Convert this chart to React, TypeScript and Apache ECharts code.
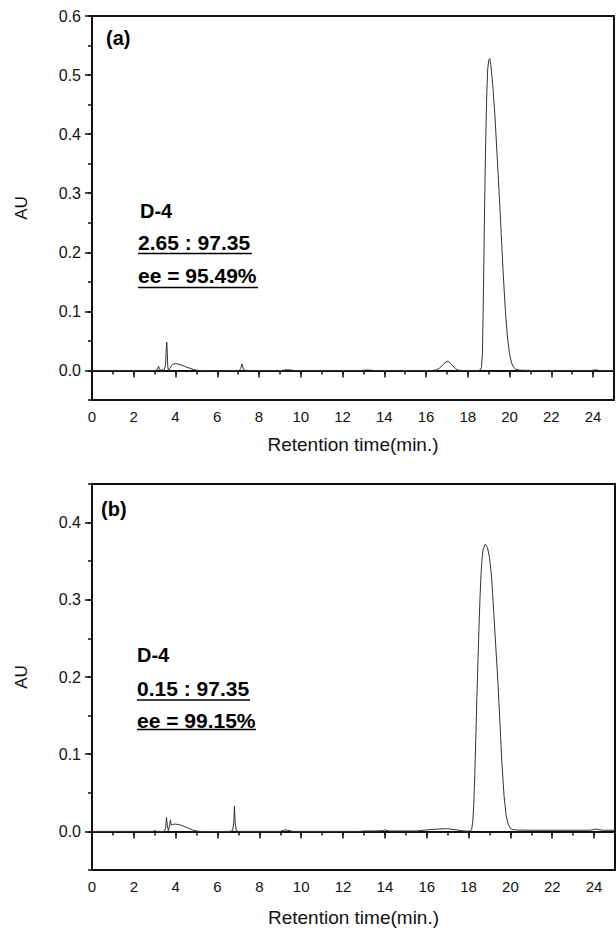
import React, { useEffect, useRef } from "react";
import * as echarts from "echarts";

// Retention time (min) vs absorbance (AU), panel (a)
const traceA: [number, number][] = [
  [0, 0], [3.0, 0], [3.1, 0.0005], [3.15, 0.004], [3.19, 0.007], [3.23, 0.002], [3.3, 0.0005],
  [3.45, 0.001], [3.52, 0.008], [3.555, 0.035], [3.58, 0.048], [3.605, 0.03], [3.63, 0.006],
  [3.67, -0.001], [3.72, 0.003], [3.8, 0.008], [3.9, 0.011], [4.0, 0.0115], [4.1, 0.011],
  [4.3, 0.009], [4.5, 0.006], [4.7, 0.0035], [4.9, 0.0012], [5.1, 0.0], [5.5, -0.0005],
  [6.0, -0.0005], [6.5, 0], [7.05, 0], [7.12, 0.003], [7.18, 0.011], [7.24, 0.004], [7.3, 0.0005],
  [7.5, 0], [9.1, 0], [9.3, 0.0012], [9.5, 0.0008], [9.7, 0], [12.9, 0], [13.2, 0.0008], [13.5, 0],
  [16.3, 0], [16.5, 0.001], [16.65, 0.004], [16.8, 0.0095], [16.9, 0.013], [17.0, 0.015],
  [17.1, 0.0145], [17.2, 0.011], [17.3, 0.007], [17.4, 0.0035], [17.5, 0.0012], [17.6, 0.0003],
  [17.8, 0], [18.5, 0], [18.6, 0.001], [18.65, 0.005], [18.7, 0.03], [18.75, 0.14], [18.8, 0.27],
  [18.85, 0.38], [18.9, 0.46], [18.95, 0.51], [19.0, 0.525], [19.05, 0.528], [19.1, 0.518],
  [19.2, 0.48], [19.3, 0.43], [19.4, 0.365], [19.5, 0.3], [19.6, 0.23], [19.7, 0.16], [19.8, 0.1],
  [19.9, 0.055], [20.0, 0.027], [20.1, 0.012], [20.2, 0.005], [20.3, 0.0018], [20.5, 0.0005],
  [21, 0], [23.9, 0], [24.1, 0.001], [24.3, 0], [25, 0],
];

// panel (b)
const traceB: [number, number][] = [
  [0, 0], [2.9, 0], [3.0, 0.001], [3.1, 0], [3.45, 0], [3.52, 0.004], [3.56, 0.018], [3.6, 0.008],
  [3.65, 0.001], [3.7, 0.006], [3.75, 0.015], [3.79, 0.008], [3.85, 0.009], [4.0, 0.0095],
  [4.2, 0.0085], [4.4, 0.0065], [4.6, 0.0042], [4.8, 0.002], [5.0, 0.0005], [5.3, -0.0003],
  [6.0, -0.0003], [6.6, 0], [6.72, 0.001], [6.78, 0.012], [6.81, 0.033], [6.84, 0.012], [6.9, 0.001],
  [7.0, 0], [9.0, 0], [9.2, 0.002], [9.35, 0.0015], [9.6, 0], [12.8, 0], [13.0, 0.0005],
  [13.5, 0.0005], [13.9, 0.001], [14.0, 0.002], [14.2, 0.0005], [15.5, 0.0005], [16.0, 0.002],
  [16.5, 0.003], [17.0, 0.0035], [17.4, 0.002], [17.8, 0.0005], [18.0, 0.0003], [18.1, 0.001],
  [18.15, 0.003], [18.2, 0.012], [18.25, 0.035], [18.3, 0.075], [18.35, 0.125], [18.4, 0.175],
  [18.45, 0.222], [18.5, 0.265], [18.55, 0.305], [18.6, 0.335], [18.65, 0.355], [18.7, 0.366],
  [18.8, 0.372], [18.9, 0.368], [19.0, 0.355], [19.1, 0.33], [19.2, 0.285], [19.3, 0.24],
  [19.4, 0.195], [19.5, 0.14], [19.6, 0.085], [19.7, 0.045], [19.8, 0.02], [19.9, 0.009],
  [20.0, 0.004], [20.1, 0.0025], [20.3, 0.0018], [21, 0.0015], [23.8, 0.0015], [24.1, 0.003],
  [24.4, 0.0015], [25, 0.0015],
];

const xRange = [0, 25];
const xMajorStep = 2;
const xMinorStep = 1;
const yRangeA = [-0.05, 0.6];
const yRangeB = [-0.05, 0.45];
const yMinorStep = 0.05;

const panelLabels = ["(a)", "(b)"];
const sampleName = "D-4";
const ratioTexts = ["2.65 : 97.35", "0.15 : 97.35"];
const eeTexts = ["ee = 95.49%", "ee = 99.15%"];

const xTitle = "Retention time(min.)";
const yTitle = "AU";

const FONT = "'Liberation Sans', Arial, Helvetica, sans-serif";
const INK = "#111";

export default function App() {
  const ref = useRef<HTMLDivElement>(null);

  useEffect(() => {
    document.body.style.margin = "0";
    if (!ref.current) return;
    const chart = echarts.init(ref.current, undefined, { renderer: "svg" });

    const majorX = (grid: number, gap: number) => ({
      type: "value",
      gridIndex: grid,
      position: "bottom",
      min: xRange[0],
      max: xRange[1],
      interval: xMajorStep,
      axisLine: { show: true, lineStyle: { color: INK, width: 2 } },
      axisTick: { show: true, inside: false, length: 7, lineStyle: { color: INK, width: 1.5 } },
      axisLabel: { show: true, color: INK, fontSize: 15, fontFamily: FONT, margin: 9, showMaxLabel: false },
      splitLine: { show: false },
      name: xTitle,
      nameLocation: "middle",
      nameGap: gap,
      nameTextStyle: { color: INK, fontSize: 19, fontFamily: FONT },
    });
    const minorX = (grid: number) => ({
      type: "value",
      gridIndex: grid,
      position: "bottom",
      offset: 0,
      min: xRange[0],
      max: xRange[1],
      interval: xMinorStep,
      axisLine: { show: false },
      axisTick: { show: true, inside: false, length: 4, lineStyle: { color: INK, width: 1.5 } },
      axisLabel: { show: false },
      splitLine: { show: false },
    });
    const majorY = (grid: number, range: number[]) => ({
      type: "value",
      gridIndex: grid,
      position: "left",
      min: range[0],
      max: range[1],
      splitNumber: 6,
      axisLine: { show: true, lineStyle: { color: INK, width: 2 } },
      axisTick: { show: true, inside: false, length: 7, lineStyle: { color: INK, width: 1.5 } },
      axisLabel: {
        show: true,
        color: INK,
        fontSize: 16,
        fontFamily: FONT,
        margin: 11,
        showMinLabel: false,
        showMaxLabel: range[1] === 0.6,
        formatter: (v: number) => v.toFixed(1),
      },
      splitLine: { show: false },
      name: yTitle,
      nameLocation: "middle",
      nameRotate: 90,
      nameGap: 62,
      nameTextStyle: { color: INK, fontSize: 17, fontFamily: FONT },
    });
    const minorY = (grid: number, range: number[]) => ({
      type: "value",
      gridIndex: grid,
      position: "left",
      offset: 0,
      min: range[0],
      max: range[1],
      interval: yMinorStep,
      axisLine: { show: false },
      axisTick: { show: true, inside: false, length: 4, lineStyle: { color: INK, width: 1.5 } },
      axisLabel: { show: false },
      splitLine: { show: false },
    });

    const boldText = (text: string, x: number, y: number, size: number) => ({
      type: "text",
      x,
      y,
      style: {
        text,
        fill: "#000",
        font: `bold ${size}px ${FONT}`,
        textAlign: "left",
        textVerticalAlign: "middle",
      },
    });
    const underline = (x1: number, x2: number, y: number) => ({
      type: "line",
      shape: { x1, y1: y, x2, y2: y },
      style: { stroke: "#000", lineWidth: 1.6 },
    });

    chart.setOption({
      animation: false,
      textStyle: { fontFamily: FONT },
      grid: [
        { left: 92, top: 16, width: 522, height: 384, show: true, borderColor: INK, borderWidth: 2, backgroundColor: "transparent" },
        { left: 92, top: 484, width: 523, height: 386, show: true, borderColor: INK, borderWidth: 2, backgroundColor: "transparent" },
      ],
      xAxis: [majorX(0, 35), minorX(0), majorX(1, 38), minorX(1)],
      yAxis: [majorY(0, yRangeA), minorY(0, yRangeA), majorY(1, yRangeB), minorY(1, yRangeB)],
      series: [
        {
          type: "line",
          xAxisIndex: 0,
          yAxisIndex: 0,
          data: traceA,
          showSymbol: false,
          symbol: "none",
          lineStyle: { color: "#333", width: 1 },
          silent: true,
        },
        {
          type: "line",
          xAxisIndex: 2,
          yAxisIndex: 2,
          data: traceB,
          showSymbol: false,
          symbol: "none",
          lineStyle: { color: "#333", width: 1 },
          silent: true,
        },
      ],
      graphic: [
        boldText(panelLabels[0], 106, 38, 20),
        boldText(sampleName, 140, 211, 20),
        boldText(ratioTexts[0], 138, 242.5, 21),
        underline(138, 252, 253.5),
        boldText(eeTexts[0], 138, 275, 21),
        underline(138, 258, 287.5),
        boldText(panelLabels[1], 101, 509, 20),
        boldText(sampleName, 137, 655, 20),
        boldText(ratioTexts[1], 137, 688, 21),
        underline(137, 250, 700),
        boldText(eeTexts[1], 137, 720, 21),
        underline(137, 256, 729.5),
      ],
    });

    return () => chart.dispose();
  }, []);

  return <div ref={ref} style={{ width: 616, height: 929 }} />;
}
